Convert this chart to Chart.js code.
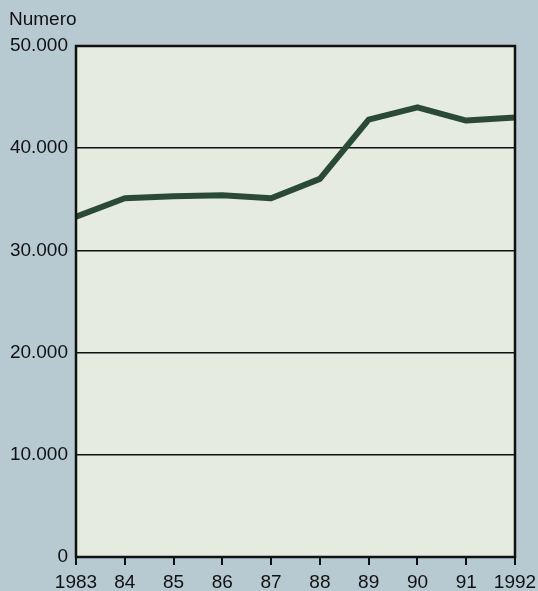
<!DOCTYPE html>
<html lang="it">
<head>
  <meta charset="UTF-8" />
  <title>Numero 1983-1992</title>
  <script src="https://cdn.jsdelivr.net/npm/chart.js"></script>
  <style>
    body {
      margin: 0;
      background: #b7c9d1;
    }
    .wrap {
      width: 538px;
      height: 591px;
    }
  </style>
</head>
<body>
  <div class="wrap">
    <canvas id="numChart" width="538" height="591"></canvas>
  </div>

  <script>
    const years = [1983, 1984, 1985, 1986, 1987, 1988, 1989, 1990, 1991, 1992];
    const values = [33300, 35100, 35300, 35400, 35100, 37000, 42800, 44000, 42700, 43000];
    const yTicks = [0, 10000, 20000, 30000, 40000, 50000];

    const FONT = "'Liberation Sans', Arial, sans-serif";

    // background + plot fill + frame + "Numero" label
    const paper = {
      id: 'paper',
      beforeDraw(chart) {
        const { ctx, chartArea: a } = chart;
        ctx.save();
        ctx.fillStyle = '#b7c9d1';
        ctx.fillRect(0, 0, chart.width, chart.height);
        ctx.fillStyle = '#e5ebde';
        ctx.fillRect(a.left, a.top, a.right - a.left, a.bottom - a.top);
        ctx.restore();
      },
      afterDraw(chart) {
        const { ctx, chartArea: a } = chart;
        ctx.save();
        ctx.strokeStyle = '#111';
        ctx.lineWidth = 2.5;
        ctx.strokeRect(a.left, a.top, a.right - a.left, a.bottom - a.top);
        ctx.fillStyle = '#111';
        ctx.font = '19px ' + FONT;
        ctx.textBaseline = 'middle';
        ctx.fillText('Numero', 9, 20);
        ctx.restore();
      }
    };

    new Chart(document.getElementById('numChart'), {
      type: 'line',
      data: {
        datasets: [{
          data: years.map((y, i) => ({ x: y, y: values[i] })),
          borderColor: '#2b4a33',
          borderWidth: 6,
          pointRadius: 0,
          tension: 0,
          borderJoinStyle: 'round',
          fill: false
        }]
      },
      options: {
        responsive: false,
        animation: false,
        layout: { padding: { top: 46, right: 23, left: 0, bottom: 0 } },
        plugins: { legend: { display: false }, tooltip: { enabled: false } },
        scales: {
          x: {
            type: 'linear',
            min: 1983,
            max: 1992,
            afterBuildTicks: s => { s.ticks = years.map(v => ({ value: v })); },
            afterFit: s => { s.height = 34; s.paddingLeft = 0; s.paddingRight = 0; },
            border: { display: false },
            grid: {
              drawOnChartArea: false,
              drawTicks: true,
              tickLength: 8,
              color: '#111',
              lineWidth: 2
            },
            ticks: {
              color: '#111',
              padding: 6,
              maxRotation: 0,
              autoSkip: false,
              font: { family: FONT, size: 19 },
              callback: v => (v === 1983 || v === 1992) ? String(v) : String(v).slice(2)
            }
          },
          y: {
            min: 0,
            max: 50000,
            afterBuildTicks: s => { s.ticks = yTicks.map(v => ({ value: v })); },
            afterFit: s => { s.width = 76; s.paddingTop = 0; s.paddingBottom = 0; },
            border: { display: false },
            grid: {
              drawTicks: false,
              color: '#111',
              lineWidth: 1.5
            },
            ticks: {
              color: '#111',
              padding: 8,
              font: { family: FONT, size: 19 },
              callback: v => v === 0 ? '0' : v.toLocaleString('it-IT')
            }
          }
        }
      },
      plugins: [paper]
    });
  </script>
</body>
</html>
